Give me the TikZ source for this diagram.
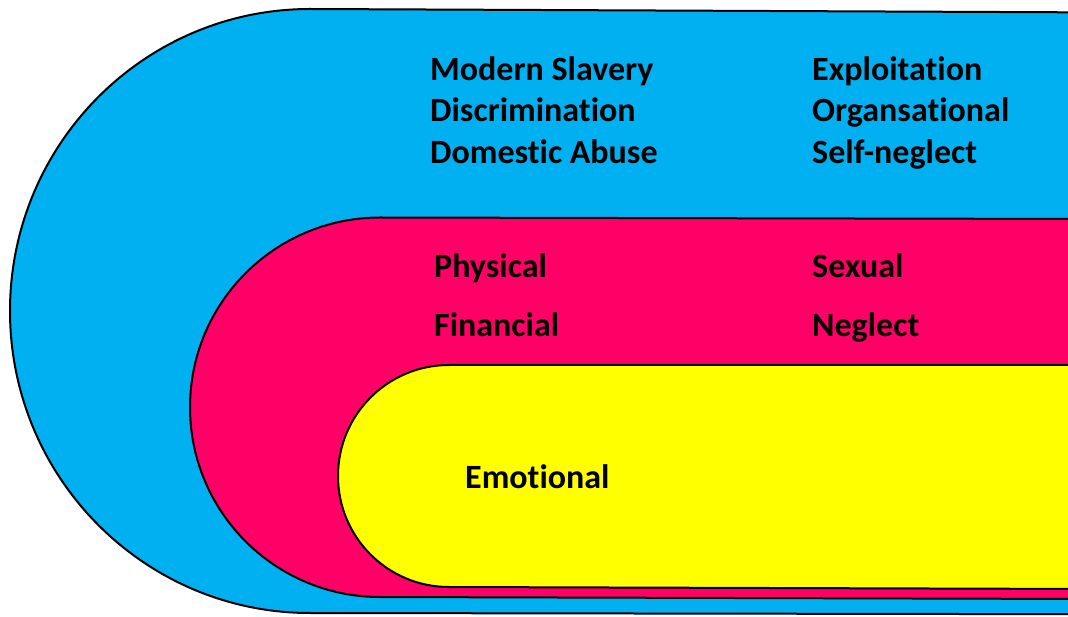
\documentclass[tikz,border=0pt]{standalone}
\usepackage{fontspec}
\setmainfont{Carlito}[Ligatures=NoCommon]
\definecolor{outerblue}{HTML}{00B0F0}
\definecolor{midpink}{HTML}{FF0066}
\definecolor{inneryellow}{HTML}{FFFF00}
\begin{document}
\begin{tikzpicture}[x=1pt,y=1pt,
    band/.style={draw=black,line width=2pt},
    label/.style={anchor=base west,inner sep=0pt,font=\fontsize{34}{40}\selectfont\bfseries}]
  \useasboundingbox (0,0) rectangle (1068,616);
  \begin{scope}
    \clip (0,0) rectangle (1068,616);
    % outer band
    \draw[band,fill=outerblue] (1090,603.6) -- (310,607)
      arc[start angle=90,end angle=270,x radius=300,y radius=302]
      -- (1090,1.8) -- cycle;
    % middle band
    \draw[band,fill=midpink] (1090,397) -- (380,398.5)
      arc[start angle=90,end angle=270,x radius=190,y radius=189.75]
      -- (1090,17) -- cycle;
    % inner band
    \draw[band,fill=inneryellow] (1090,251) -- (449,251)
      arc[start angle=90,end angle=270,x radius=111,y radius=111]
      -- (1090,27) -- cycle;
  \end{scope}
  % outer band labels
  \node[label] (ms) at (430,535.5) {Modern Slavery};
  \node[label] (di) at (430,494) {Discrimination};
  \node[label] (da) at (430,452.5) {Domestic Abuse};
  \node[label] (ex) at (812,535.5) {Exploitation};
  \node[label] (or) at (812,494) {Organsational};
  \node[label] (sn) at (812,452.5) {Self-neglect};
  % middle band labels
  \node[label] (ph) at (434,338) {Physical};
  \node[label] (fi) at (434,279) {Financial};
  \node[label] (se) at (812,338) {Sexual};
  \node[label] (ne) at (812,279) {Neglect};
  % inner band label
  \node[label] (em) at (465,127) {Emotional};
\end{tikzpicture}
\end{document}
